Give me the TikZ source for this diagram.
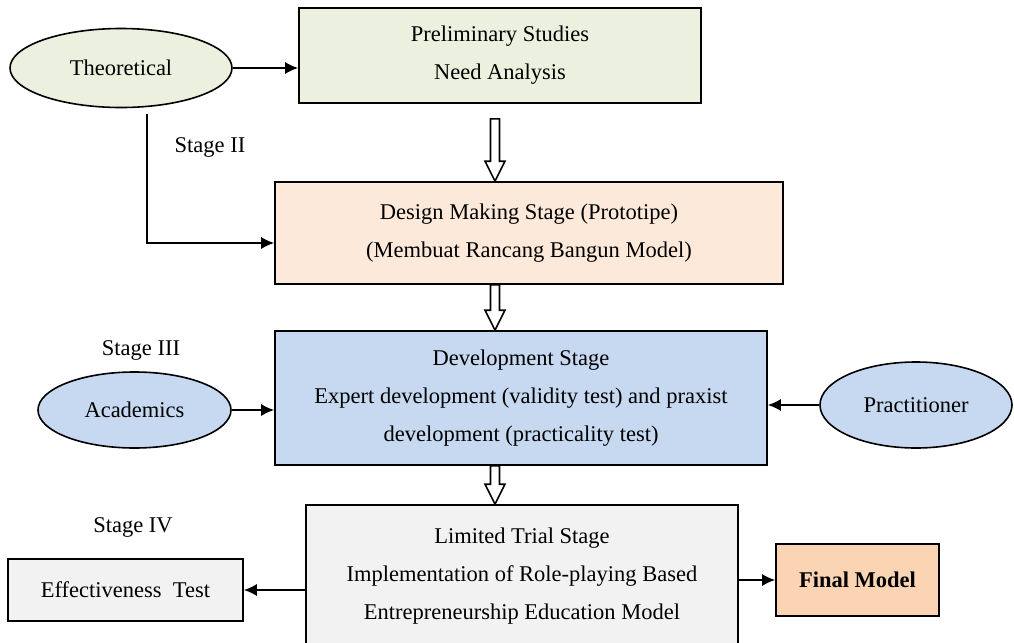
\documentclass[tikz,border=0pt]{standalone}
\usepackage{fontspec}
\setmainfont{Liberation Serif}
\usetikzlibrary{shapes.geometric,arrows.meta,calc}

\definecolor{greenbox}{HTML}{EBF1DE}
\definecolor{peachbox}{HTML}{FDE9D9}
\definecolor{bluebox}{HTML}{C6D9F1}
\definecolor{greybox}{HTML}{F2F2F2}
\definecolor{orangebox}{HTML}{FBD4B4}

% hollow down arrow between two points
\newcommand{\hollowarrow}[2]{%
  \draw[thick,fill=white] let \p1=(#1), \p2=(#2) in
    (\x1-2.25pt,\y1) -- (\x1-2.25pt,\y2+10pt) -- (\x1-5pt,\y2+10pt) -- (\x1,\y2)
    -- (\x1+5pt,\y2+10pt) -- (\x1+2.25pt,\y2+10pt) -- (\x1+2.25pt,\y1) -- cycle;}

\begin{document}
\begin{tikzpicture}[x=0.5pt, y=-0.5pt, >={Latex[length=6.5pt,width=6pt]},
  font=\fontsize{11.25}{19}\selectfont,
  box/.style={draw, thick, align=center, inner sep=0pt},
  oval/.style={ellipse, draw, thick, inner sep=0pt}]
\useasboundingbox (0,0) rectangle (1014,643);

\node[box, fill=greenbox, minimum width=201pt, minimum height=47.5pt] (pre) at (500,55.5) {Preliminary Studies\\Need Analysis};
\node[box, fill=peachbox, minimum width=254pt, minimum height=51pt] (design) at (529,233) {Design Making Stage (Prototipe)\\(Membuat Rancang Bangun Model)};
\node[box, fill=bluebox, minimum width=246pt, minimum height=67pt] (dev) at (521,398) {Development Stage\\Expert development (validity test) and praxist\\development (practicality test)};
\node[box, fill=greybox, minimum width=216pt, minimum height=71.5pt] (trial) at (522,576.5) {Limited Trial Stage\\Implementation of Role-playing Based\\Entrepreneurship Education Model};
\node[box, fill=greybox, minimum width=117.5pt, minimum height=31pt] (eff) at (125.5,590) {Effectiveness\ \ Test};
\node[box, fill=orangebox, minimum width=81.5pt, minimum height=36pt] (final) at (857.5,580) {\textbf{Final Model}};

\node[oval, fill=greenbox, minimum width=111pt, minimum height=39.5pt] (theo) at (121,68) {Theoretical};
\node[oval, fill=bluebox, minimum width=96.5pt, minimum height=38pt] (acad) at (134.5,410) {Academics};
\node[oval, fill=bluebox, minimum width=96pt, minimum height=43pt] (prac) at (916,405) {Practitioner};

\node (s2) at (210,147) {Stage II};
\node (s3) at (141,350) {Stage III};
\node (s4) at (133,527) {Stage IV};

\draw[thick,->] (theo.east) -- (theo.east -| pre.west);
\draw[thick,->] ($(theo.south)+(26,6)$) |- ($(design.west)+(0,10)$);
\draw[thick,->] (acad.east) -- (acad.east -| dev.west);
\draw[thick,->] (prac.west) -- (prac.west -| dev.east);
\draw[thick,->] (trial.west |- eff.east) -- (eff.east);
\draw[thick,->] (trial.east |- final.west) -- (final.west);

\hollowarrow{$(pre.south)+(-5,15)$}{design.north}
\hollowarrow{$(design.south)+(-34,0)$}{dev.north}
\hollowarrow{$(dev.south)+(-26,0)$}{trial.north}
\end{tikzpicture}
\end{document}
